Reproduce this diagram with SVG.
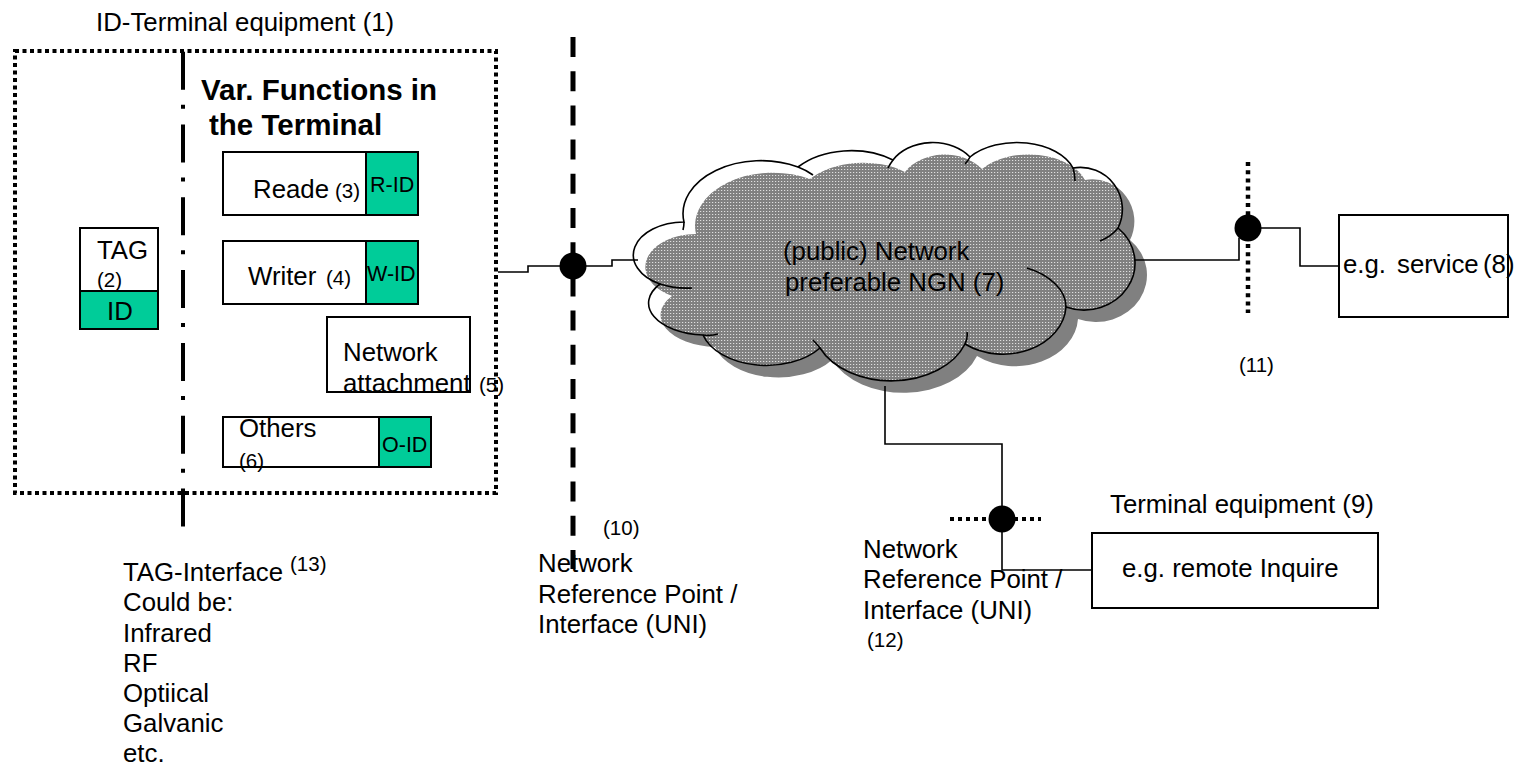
<svg xmlns="http://www.w3.org/2000/svg" width="1514" height="764" viewBox="0 0 1514 764">
  <defs>
    <!-- white dot raster used inside the network cloud -->
    <pattern id="dots" width="3" height="3" patternUnits="userSpaceOnUse">
      <rect x="1" y="1" width="1.2" height="1" fill="#ffffff" fill-opacity="0.75"/>
    </pattern>
    <!-- cloud outline built from elliptical bumps, clockwise from the left -->
    <path id="cloudShape" d="M660,284 A51,33 0 0 1 684,222 A78,53 0 0 1 798,167 A72,50 0 0 1 893,160 A46,35 0 0 1 970,157 A59,37 0 0 1 1073,168 A42,42 0 0 1 1118,228 A51,47 0 0 1 1066,307 A63,50 0 0 1 965,344 A78,55 0 0 1 820,348 A66,42 0 0 1 703,335 A58,32 0 0 1 660,284 Z"/>
  </defs>
  <style>
    text { font-family: "Liberation Sans", Arial, sans-serif; font-size: 25.8px; fill: #000; }
    .sm { font-size: 20.5px; }
    .id { font-size: 21.5px; }
    .b { font-weight: bold; font-size: 29.5px; }
    .box { fill: #fff; stroke: #000; stroke-width: 2; }
    .grn { fill: #00cc99; stroke: #000; stroke-width: 2; }
    .wire { fill: none; stroke: #000; stroke-width: 1.6; }
    .pt { fill: #000; }
  </style>

  <rect width="1514" height="764" fill="#fff"/>

  <!-- ID terminal enclosure (1) -->
  <g id="id-terminal">
    <text x="96" y="31">ID-Terminal equipment (1)</text>
    <rect x="15" y="51" width="481" height="442" fill="none" stroke="#000" stroke-width="4" stroke-dasharray="4 3.5"/>
    <text class="b" x="201" y="100">Var. Functions in</text>
    <text class="b" x="209" y="135">the Terminal</text>
  </g>

  <!-- TAG interface boundary (13) -->
  <g id="tag-interface">
    <line x1="183" y1="51.7" x2="183" y2="527" stroke="#000" stroke-width="4" stroke-dasharray="38 15 4 15.8"/>
    <text x="123" y="581">TAG-Interface</text>
    <text class="sm" x="290" y="571">(13)</text>
    <text x="123" y="611">Could be:</text>
    <text x="123" y="642">Infrared</text>
    <text x="123" y="672">RF</text>
    <text x="123" y="702">Optiical</text>
    <text x="123" y="732">Galvanic</text>
    <text x="123" y="762">etc.</text>
  </g>

  <!-- TAG (2) -->
  <g id="tag">
    <rect class="box" x="80" y="228" width="78" height="63"/>
    <rect class="grn" x="80" y="291" width="78" height="38"/>
    <text x="97" y="259">TAG</text>
    <text class="sm" x="97" y="287">(2)</text>
    <text x="107" y="320">ID</text>
  </g>

  <!-- Reader (3) -->
  <g id="reader">
    <rect class="box" x="223" y="152" width="143" height="63"/>
    <rect class="grn" x="366" y="152" width="52" height="63"/>
    <text x="253" y="198">Reade <tspan class="sm" x="335">(3)</tspan></text>
    <text class="id" x="370" y="192">R-ID</text>
  </g>

  <!-- Writer (4) -->
  <g id="writer">
    <rect class="box" x="223" y="241" width="143" height="63"/>
    <rect class="grn" x="366" y="241" width="52" height="63"/>
    <text x="248" y="285">Writer <tspan class="sm" x="326">(4)</tspan></text>
    <text class="id" x="367" y="281">W-ID</text>
  </g>

  <!-- Network attachment (5) -->
  <g id="network-attachment">
    <rect class="box" x="327" y="317" width="143" height="75"/>
    <text x="343" y="361">Network</text>
    <text x="343" y="392">attachment <tspan class="sm" x="479">(5)</tspan></text>
  </g>

  <!-- Others (6) -->
  <g id="others">
    <rect class="box" x="223" y="417" width="156" height="50"/>
    <rect class="grn" x="379" y="417" width="52" height="50"/>
    <text x="239" y="437">Others</text>
    <text class="sm" x="239" y="468">(6)</text>
    <text class="id" x="382" y="452">O-ID</text>
  </g>

  <!-- Network reference point (10) -->
  <g id="ref-point-10">
    <line x1="573" y1="37" x2="573" y2="569" stroke="#000" stroke-width="5" stroke-dasharray="20 14.2"/>
    <text class="sm" x="603" y="535">(10)</text>
    <text x="538" y="572">Network</text>
    <text x="538" y="603">Reference Point /</text>
    <text x="538" y="633">Interface (UNI)</text>
  </g>

  <!-- Public network cloud (7) -->
  <g id="network-cloud">
    <use href="#cloudShape" transform="translate(12,12)" fill="#808080"/>
    <use href="#cloudShape" fill="url(#dots)" stroke="#000" stroke-width="1.6"/>
    <path class="wire" d="M660,284 Q675,289 692,288 M703,335 Q711,336 718,334 M820,348 Q816,343 813,340 M965,344 Q968,338 967,332 M1066,307 C1066,290 1050,275 1027,268 M1118,228 Q1112,236 1100,241 M1073,168 Q1075,174 1075,181 M970,157 Q968,161 965,164 M893,160 Q890,164 888,168 M798,167 Q806,170 813,175 M684,222 Q684,226 683,230"/>
    <text x="783" y="260">(public) Network</text>
    <text x="785" y="291">preferable NGN (7)</text>
  </g>

  <!-- Service reference point (11) -->
  <g id="ref-point-11">
    <line x1="1248" y1="162" x2="1248" y2="313" stroke="#000" stroke-width="4.5" stroke-dasharray="4 4.2"/>
    <text class="sm" x="1239" y="372">(11)</text>
  </g>

  <!-- Service (8) -->
  <g id="service">
    <rect class="box" x="1339" y="215" width="169" height="102"/>
    <text x="1343" y="273" style="white-space:pre">e.g.  <tspan x="1397">service</tspan> <tspan x="1483">(8)</tspan></text>
  </g>

  <!-- Remote terminal reference point (12) -->
  <g id="ref-point-12">
    <line x1="950" y1="519" x2="1041" y2="519" stroke="#000" stroke-width="4" stroke-dasharray="4 4"/>
    <text x="863" y="558">Network</text>
    <text x="863" y="588">Reference Point /</text>
    <text x="863" y="619">Interface (UNI)</text>
    <text class="sm" x="867" y="647">(12)</text>
  </g>

  <!-- Terminal equipment (9) -->
  <g id="terminal-equipment">
    <text x="1110" y="513">Terminal equipment (9)</text>
    <rect class="box" x="1092" y="533" width="286" height="75"/>
    <text x="1122" y="577">e.g. remote Inquire</text>
  </g>

  <!-- connectors -->
  <g id="connectors">
    <path class="wire" d="M498,272 H528 V266 H612 V260 H638"/>
    <path class="wire" d="M1134,260 H1239 V238"/>
    <path class="wire" d="M1260,228 H1300 V266 H1339"/>
    <path class="wire" d="M885,386 V444 H1002 V570 H1092"/>
    <circle class="pt" cx="573" cy="266" r="13.5"/>
    <circle class="pt" cx="1248" cy="228" r="13.5"/>
    <circle class="pt" cx="1002" cy="519" r="13.5"/>
  </g>
</svg>
